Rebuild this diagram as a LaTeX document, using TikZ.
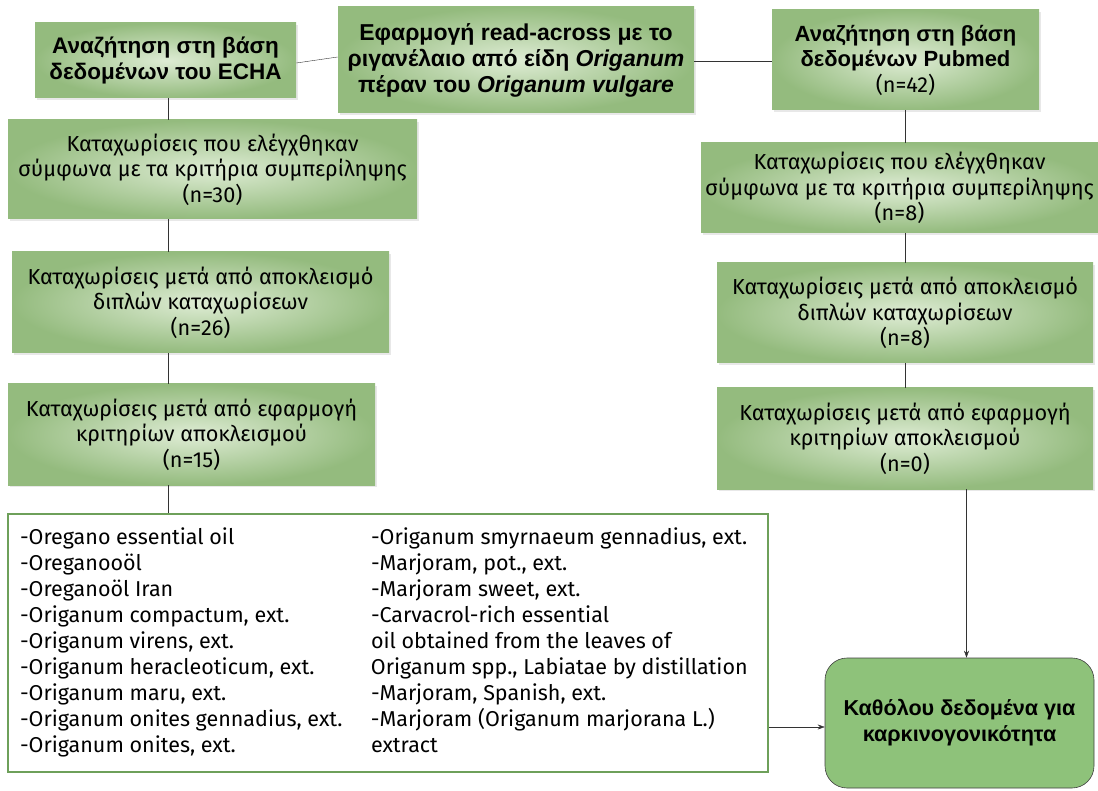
\documentclass[tikz,border=0pt]{standalone}
\usepackage{fontspec}
\setmainfont{Fira Sans}
\newfontfamily\headfont{Liberation Sans}
\usetikzlibrary{shadows,arrows.meta}

\definecolor{boxlight}{RGB}{222,236,212}
\definecolor{boxdark}{RGB}{148,187,126}
\definecolor{listframe}{RGB}{110,160,90}
\definecolor{nonefill}{RGB}{142,194,122}

\begin{document}
\begin{tikzpicture}
            [x=1pt, y=-1pt, >={Stealth[length=7pt, width=5pt]}, semithick,
             stepbox/.style={shape=rectangle, draw=none, shading=radial, inner color=boxlight, outer color=boxdark,
                             drop shadow={opacity=0.18, shadow xshift=2pt, shadow yshift=-2pt},
                             align=center, font=\fontsize{21.7}{25.5}\selectfont, inner sep=0pt},
             headbox/.style={stepbox, font=\headfont\bfseries\fontsize{22.5}{25.5}\selectfont},
             link/.style={thin, draw=black!80}]
            \useasboundingbox (0, 0) rectangle (1098, 791);

            \node[headbox, minimum width=261, minimum height=75] (echa) at (165.5, 60.5)
                {Αναζήτηση στη βάση\\δεδομένων του ECHA};
            \node[headbox, minimum width=356, minimum height=106, font=\headfont\bfseries\fontsize{23}{26}\selectfont]
                (readacross) at (516, 60)
                {Εφαρμογή read-across με το\\ριγανέλαιο από είδη \textit{Origanum}\\πέραν του \textit{Origanum vulgare}};
            \node[headbox, minimum width=267, minimum height=100, font=\headfont\bfseries\fontsize{22}{25.5}\selectfont]
                (pubmed) at (905.5, 60)
                {Αναζήτηση στη βάση\\δεδομένων Pubmed\\{\normalfont\fontsize{21.7}{25.5}\selectfont (n=42)}};

            \node[stepbox, minimum width=409, minimum height=99] (chk) at (212.5, 169.5)
                {Καταχωρίσεις που ελέγχθηκαν\\σύμφωνα με τα κριτήρια συμπερίληψης\\(n=30)};
            \node[stepbox, minimum width=377, minimum height=101] (dup) at (200.5, 302.5)
                {Καταχωρίσεις μετά από αποκλεισμό\\διπλών καταχωρίσεων\\(n=26)};
            \node[stepbox, minimum width=367, minimum height=101] (excl) at (191.5, 434.5)
                {Καταχωρίσεις μετά από εφαρμογή\\κριτηρίων αποκλεισμού\\(n=15)};

            \node[stepbox, minimum width=397, minimum height=90] (pchk) at (899.5, 188)
                {Καταχωρίσεις που ελέγχθηκαν\\σύμφωνα με τα κριτήρια συμπερίληψης\\(n=8)};
            \node[stepbox, minimum width=376, minimum height=100] (pdup) at (905, 313)
                {Καταχωρίσεις μετά από αποκλεισμό\\διπλών καταχωρίσεων\\(n=8)};
            \node[stepbox, minimum width=376, minimum height=101] (pexcl) at (905, 438.5)
                {Καταχωρίσεις μετά από εφαρμογή\\κριτηρίων αποκλεισμού\\(n=0)};

            % list of entries
            \node[shape=rectangle, draw=listframe, line width=2.2pt, fill=white, inner sep=0pt,
                  minimum width=760, minimum height=258,
                  font=\fontsize{21.5}{26}\selectfont] (list) at (388, 643)
                {\begin{tabular}{@{}p{351pt}@{}p{385pt}@{}}
                  -Oregano essential oil & -Origanum smyrnaeum gennadius, ext.\\
                  -Oreganooöl & -Marjoram, pot., ext.\\
                  -Oreganoöl Iran & -Marjoram sweet, ext.\\
                  -Origanum compactum, ext. & -Carvacrol-rich essential\\
                  -Origanum virens, ext. & oil obtained from the leaves of\\
                  -Origanum heracleoticum, ext. & Origanum spp., Labiatae by distillation\\
                  -Origanum maru, ext. & -Marjoram, Spanish, ext.\\
                  -Origanum onites gennadius, ext. & -Marjoram (Origanum marjorana L.)\\
                  -Origanum onites, ext. & extract
                 \end{tabular}};

            \node[shape=rectangle, rounded corners=22pt, draw=black!75, fill=nonefill, align=center,
                  minimum width=269, minimum height=130, inner sep=0pt,
                  font=\headfont\bfseries\fontsize{21.6}{26}\selectfont] (none) at (959.5, 723)
                {Καθόλου δεδομένα για\\καρκινογονικότητα};

            \draw [link] ([yshift=-2.5pt]echa.east) -- ([yshift=3pt]readacross.west);
            \draw [link] ([yshift=-1pt]readacross.east) -- ([yshift=-1pt]pubmed.west);
            \draw [link] ([xshift=2.5pt]echa.south) -- ([xshift=2.5pt]echa.south |- chk.north);
            \draw [link] ([xshift=2.5pt]echa.south |- chk.south) -- ([xshift=2.5pt]echa.south |- dup.north);
            \draw [link] ([xshift=2.5pt]echa.south |- dup.south) -- ([xshift=2.5pt]echa.south |- excl.north);
            \draw [link] ([xshift=2.5pt]echa.south |- excl.south) -- ([xshift=2.5pt]echa.south |- list.north);
            \draw [link] (pubmed.south) -- (pubmed.south |- pchk.north);
            \draw [link] (pubmed.south |- pchk.south) -- (pubmed.south |- pdup.north);
            \draw [link] (pdup.south) -- (pexcl.north);
            \draw [link, ->] ([xshift=7pt]none.north |- pexcl.south) -- ([xshift=7pt]none.north);
            \draw [link, ->] ([yshift=-4pt]list.east |- none.west) -- ([yshift=-4pt]none.west);
        \end{tikzpicture}
\end{document}
